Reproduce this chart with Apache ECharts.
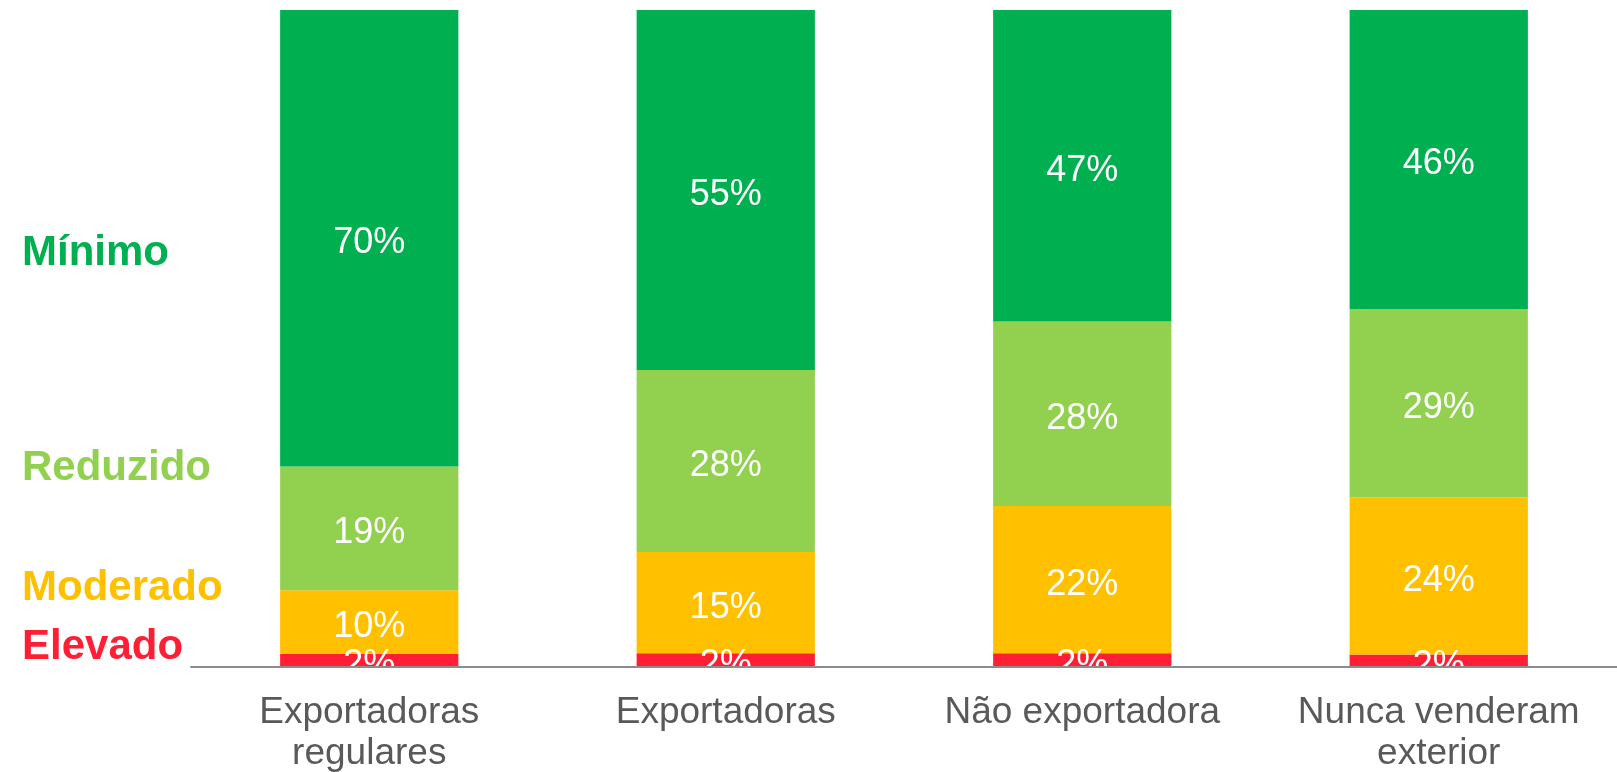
<!DOCTYPE html>
<html>
<head>
<meta charset="utf-8">
<script src="https://cdn.jsdelivr.net/npm/echarts@6/dist/echarts.min.js"></script>
<style>
html,body{margin:0;padding:0;background:#fff;}
#chart{width:1617px;height:772px;}
</style>
</head>
<body>
<div id="chart"></div>
<script>
var categories = ['Exportadoras\nregulares', 'Exportadoras', 'Não exportadora', 'Nunca venderam\nexterior'];
var elevado  = [2.0, 2.1, 2.1, 1.9];
var moderado = [9.7, 15.4, 22.4, 23.9];
var reduzido = [18.8, 27.7, 28.1, 28.7];
var minimo   = [69.5, 54.8, 47.4, 45.5];
var seriesNames = ['Elevado', 'Moderado', 'Reduzido', 'Mínimo'];
var colors = ['#FF1F35', '#FFC000', '#92D050', '#00B050'];

var FONT = '"Liberation Sans", Arial, sans-serif';
var chart = echarts.init(document.getElementById('chart'));

function mkSeries(name, data, color) {
  return {
    name: name,
    type: 'bar',
    stack: 'total',
    data: data,
    barWidth: '50%',
    itemStyle: { color: color },
    label: {
      show: true,
      position: 'inside',
      offset: [0, 5],
      color: '#ffffff',
      fontFamily: FONT,
      fontSize: 36,
      formatter: function (p) { return Math.round(p.value) + '%'; }
    }
  };
}

var legendY = [647, 588, 468.5, 253];

chart.setOption({
  animation: false,
  backgroundColor: '#ffffff',
  grid: { left: 191, right: 0, top: 10, bottom: 105, containLabel: false, outerBoundsMode: 'none' },
  xAxis: {
    type: 'category',
    data: categories,
    z: 50,
    axisLine: { show: true, lineStyle: { color: '#8C8C8C', width: 2 } },
    axisTick: { show: false },
    axisLabel: {
      color: '#595959',
      fontFamily: FONT,
      fontSize: 37,
      lineHeight: 41,
      margin: 25,
      interval: 0
    }
  },
  yAxis: {
    type: 'value',
    min: 0,
    max: 100,
    show: false,
    splitLine: { show: false }
  },
  series: [
    mkSeries(seriesNames[0], elevado, colors[0]),
    mkSeries(seriesNames[1], moderado, colors[1]),
    mkSeries(seriesNames[2], reduzido, colors[2]),
    mkSeries(seriesNames[3], minimo, colors[3])
  ],
  graphic: [
    { type: 'rect', z: 40, silent: true, shape: { x: 191, y: 668, width: 1426, height: 22 }, style: { fill: '#ffffff' } }
  ].concat(seriesNames.map(function (n, i) {
    return {
      type: 'text', z: 60, x: 22, y: legendY[i],
      style: {
        text: n, fill: colors[i], font: 'bold 42px ' + FONT,
        textAlign: 'left', textVerticalAlign: 'middle'
      }
    };
  }))
});
</script>
</body>
</html>
